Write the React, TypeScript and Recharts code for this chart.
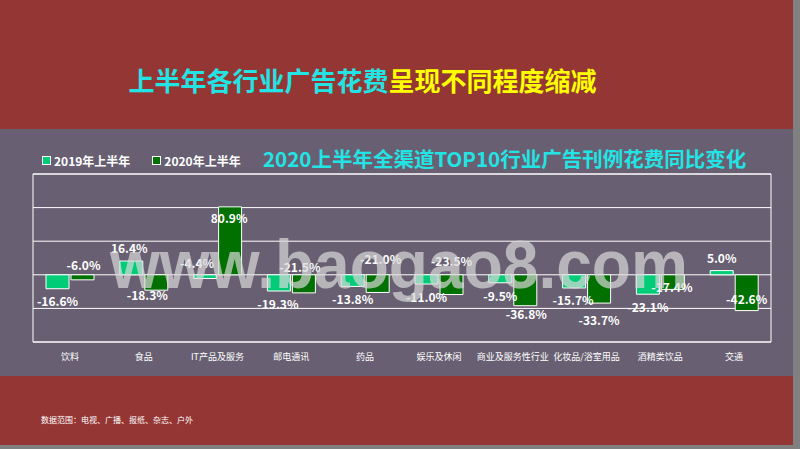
import React from 'react';
import { BarChart, Bar, XAxis, YAxis, CartesianGrid, ReferenceArea, LabelList } from 'recharts';

const categories = ['饮料', '食品', 'IT产品及服务', '邮电通讯', '药品', '娱乐及休闲', '商业及服务性行业', '化妆品/浴室用品', '酒精类饮品', '交通'];
const values2019 = [-16.6, 16.4, -4.4, -19.3, -13.8, -11.0, -9.5, -15.7, -23.1, 5.0];
const values2020 = [-6.0, -18.3, 80.9, -21.5, -21.0, -23.5, -36.8, -33.7, -17.4, -42.6];
const yTicks = [-80, -40, 0, 40, 80, 120];
const seriesNames = ['2019年上半年', '2020年上半年'];

// label offsets (relative to bar end), style only
const lab2019 = { dy: [12, -14, -16, 12, 12, 12, 13, 12, 12, -13], dx: [0, -2, -8, -1, 0, 0, 0, -1, 0, 0] };
const lab2020 = { dy: [-15, 4, 11, -26, -34, -34, 8, 16, -3, -12], dx: [1, -9, -1, -4, 3, 0, 1, 0, -1, 0] };

const data = categories.map((c, i) => ({ name: c, v2019: values2019[i], v2020: values2020[i] }));

const RED = '#943634';
const PURPLE = '#686072';
const GRAY = '#808080';
const LIGHT = '#00CC78';
const DARK = '#007000';
const CYAN = '#22E4E4';
const FONT = '"Noto Sans CJK SC", "Noto Sans", sans-serif';

const makeLabel = (off: { dy: number[]; dx: number[] }) => (props: any) => {
  const { x, y, width, height, value, index } = props;
  const y1 = Number(y), y2 = Number(y) + Number(height);
  const endY = value >= 0 ? Math.min(y1, y2) : Math.max(y1, y2);
  return (
    <text
      x={Number(x) + Number(width) / 2 + off.dx[index]}
      y={endY + off.dy[index]}
      textAnchor="middle"
      dominantBaseline="central"
      fill="#FFFFFF"
      fontSize={12}
      fontWeight="bold"
      fontFamily={FONT}
    >
      {value.toFixed(1)}%
    </text>
  );
};

const XTick = (props: any) => {
  const { x, y, payload } = props;
  return (
    <text x={x} y={y} textAnchor="middle" dominantBaseline="central" fill="#FFFFFF" fontSize={9} fontFamily={FONT}>
      {payload.value}
    </text>
  );
};

const LegendBox = () => (
  <div style={{ position: 'absolute', left: 42, top: 152, display: 'flex', alignItems: 'center', fontFamily: FONT, fontSize: 12, fontWeight: 'bold', color: '#fff', lineHeight: '17px' }}>
    {[LIGHT, DARK].map((c, i) => (
      <div key={i} style={{ display: 'flex', alignItems: 'center', marginRight: i === 0 ? 22 : 0 }}>
        <span style={{ display: 'inline-block', width: 7, height: 7, background: c, border: '1px solid #fff', marginRight: 3 }} />
        <span>{seriesNames[i]}</span>
      </div>
    ))}
  </div>
);

export default function App() {
  return (
    <div style={{ position: 'absolute', left: 0, top: 0, width: 800, height: 449, background: GRAY, overflow: 'hidden' }}>
      <div style={{ position: 'absolute', left: 0, top: 0, width: 793, height: 129, background: RED }} />
      <div style={{ position: 'absolute', left: 0, top: 129, width: 793, height: 247, background: PURPLE }} />
      <div style={{ position: 'absolute', left: 0, top: 376, width: 793, height: 69, background: RED }} />
      <div style={{ position: 'absolute', left: 0, top: 0 }}>
        <BarChart
          width={800}
          height={449}
          data={data}
          margin={{ top: 174, right: 29, left: 33, bottom: 77 }}
          barSize={23}
          barGap={2}
        >
          <CartesianGrid vertical={false} stroke="#FFFFFF" strokeWidth={1} />
          <YAxis hide domain={[-80, 120]} ticks={yTicks} type="number" />
          <XAxis dataKey="name" axisLine={false} tickLine={false} height={30} tickMargin={8} tick={<XTick />} interval={0} />
          <ReferenceArea y1={-80} y2={120} fill="none" stroke="#FFFFFF" strokeWidth={1} ifOverflow="visible" />
          <Bar dataKey="v2019" name={seriesNames[0]} fill={LIGHT} stroke="#FFFFFF" strokeWidth={1} isAnimationActive={false}>
            <LabelList dataKey="v2019" content={makeLabel(lab2019)} />
          </Bar>
          <Bar dataKey="v2020" name={seriesNames[1]} fill={DARK} stroke="#FFFFFF" strokeWidth={1} isAnimationActive={false}>
            <LabelList dataKey="v2020" content={makeLabel(lab2020)} />
          </Bar>
        </BarChart>
      </div>
      <LegendBox />
      <svg width={800} height={449} style={{ position: 'absolute', left: 0, top: 0, pointerEvents: 'none' }}>
        <text x={362.5} y={79} textAnchor="middle" dominantBaseline="central" fontSize={26} fontWeight="bold" fontFamily={FONT}>
          <tspan fill={CYAN}>上半年各行业广告花费</tspan>
          <tspan fill="#FFFF00">呈现不同程度缩减</tspan>
        </text>
        <text x={263} y={158} dominantBaseline="central" fontSize={20.5} fontWeight="bold" fontFamily={FONT} fill={CYAN}>
          2020上半年全渠道TOP10行业广告刊例花费同比变化
        </text>
        <text x={41} y={419} dominantBaseline="central" fontSize={8} fontFamily={FONT} fill="#FFFFFF">
          数据范围：电视、广播、报纸、杂志、户外
        </text>
        <text
          x={110}
          y={288}
          fontSize={68}
          fontWeight="bold"
          textLength={578}
          lengthAdjust="spacingAndGlyphs"
          fontFamily='"Liberation Sans", Arial, sans-serif'
          fill="#D8D8D8"
          fillOpacity={0.7}
        >
          www.baogao8.com
        </text>
      </svg>
    </div>
  );
}
